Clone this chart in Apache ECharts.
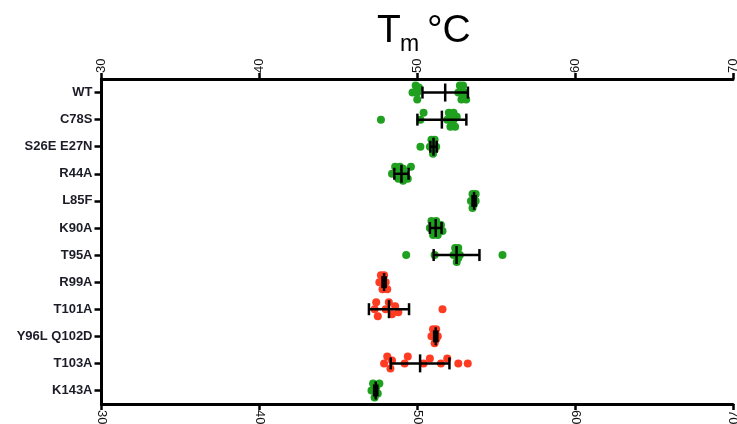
<!DOCTYPE html>
<html><head><meta charset="utf-8">
<script src="https://cdn.jsdelivr.net/npm/echarts@6/dist/echarts.min.js"></script>
<style>html,body{margin:0;padding:0;background:#fff}#c{width:737px;height:424px}</style>
</head><body><div id="c"></div>
<script>
// ---------- data ----------
const categories = ['WT','C78S','S26E E27N','R44A','L85F','K90A','T95A','R99A','T101A','Y96L Q102D','T103A','K143A'];
const groups = ['green','green','green','green','green','green','green','red','red','red','red','green'];
const ptsWT    = [49.7, 49.9, 50.0, 50.1, 50.0, 52.6, 52.7, 52.8, 52.9, 53.0, 53.1, 52.8, 52.9];
const ptsC78S  = [47.7, 50.2, 50.4, 51.9, 52.0, 52.1, 52.2, 52.3, 52.4, 52.5, 52.2, 52.3];
const ptsS26E  = [50.2, 50.8, 50.9, 51.0, 51.1, 51.2, 51.0, 51.1];
const ptsR44A  = [48.4, 48.6, 48.8, 48.9, 49.0, 49.1, 49.2, 49.4, 49.6, 48.9, 49.1];
const ptsL85F  = [53.4, 53.5, 53.6, 53.7, 53.6, 53.5, 53.7];
const ptsK90A  = [50.8, 50.9, 51.0, 51.1, 51.2, 51.3, 51.5, 51.6, 51.1, 51.2];
const ptsT95A  = [49.3, 51.1, 52.3, 52.5, 52.6, 52.7, 52.5, 52.6, 52.4, 55.4];
const ptsR99A  = [47.6, 47.7, 47.8, 47.9, 48.0, 48.1, 47.9, 47.8];
const ptsT101A = [47.3, 47.4, 47.5, 48.0, 48.2, 48.4, 48.6, 48.8, 51.6];
const ptsY96L  = [50.9, 51.0, 51.1, 51.2, 51.3, 51.1, 51.2];
const ptsT103A = [47.9, 48.1, 48.3, 48.4, 49.2, 49.4, 50.4, 50.8, 51.5, 51.9, 52.6, 53.2];
const ptsK143A = [47.1, 47.2, 47.3, 47.4, 47.5, 47.6];
const means = [51.77, 51.56, 51.03, 49.0, 53.6, 51.17, 52.49, 47.9, 48.21, 51.17, 50.18, 47.37];
const errs  = [1.44, 1.55, 0.2, 0.45, 0.1, 0.37, 1.45, 0.1, 1.27, 0.1, 1.86, 0.1];
const xTicks = [30, 40, 50, 60, 70];

// ---------- layout ----------
const allPts = [ptsWT, ptsC78S, ptsS26E, ptsR44A, ptsL85F, ptsK90A, ptsT95A, ptsR99A, ptsT101A, ptsY96L, ptsT103A, ptsK143A];
const colors = {green: '#1fa01f', red: '#ff3b22'};
const W = 737, H = 424;
const grid = {left: 101.5, right: 4, top: 79, bottom: 20, outerBoundsMode: 'none', containLabel: false};
const xMin = xTicks[0], xMax = xTicks[xTicks.length - 1];
const ppu = (W - grid.left - grid.right) / (xMax - xMin);
const SYM = 8;

// deterministic beeswarm offsets (points may overlap, like the reference)
function swarm(vals) {
  const order = vals.map((v, i) => i).sort((a, b) => vals[a] - vals[b]);
  const placed = [];
  const offs = new Array(vals.length).fill(0);
  const cands = [0, -5, 5, -3, 3, -7, 7];
  const minD = 8;
  order.forEach(i => {
    const x = vals[i] * ppu;
    let best = 0, bestD = -1;
    for (const c of cands) {
      let d = 1e9;
      for (const p of placed) {
        const dx = x - p[0], dy = c - p[1];
        d = Math.min(d, Math.sqrt(dx * dx + dy * dy));
      }
      if (d >= minD) { best = c; bestD = d; break; }
      if (d > bestD) { bestD = d; best = c; }
    }
    offs[i] = best; placed.push([x, best]);
  });
  return offs;
}

const seriesData = {green: [], red: []};
allPts.forEach((arr, ci) => {
  const offs = swarm(arr);
  arr.forEach((v, k) => {
    seriesData[groups[ci]].push({value: [v, ci], symbolOffset: [0, offs[k]]});
  });
});
const errData = means.map((m, i) => [m, i, errs[i]]);

const chart = echarts.init(document.getElementById('c'), null, {renderer: 'canvas'});
const axisLine = {show: true, lineStyle: {color: '#000', width: 3}};
const xAxisBase = {
  type: 'value', min: xMin, max: xMax, interval: 10,
  axisLine: axisLine, splitLine: {show: false},
  axisTick: {show: true, length: 6, lineStyle: {color: '#000', width: 2.5}},
  axisLabel: {rotate: -90, fontSize: 13, color: '#111', fontFamily: 'Liberation Sans, Arial', margin: 6, hideOverlap: false}
};
chart.setOption({
  animation: false,
  backgroundColor: '#fff',
  grid: grid,
  xAxis: [
    Object.assign({}, xAxisBase, {position: 'top'}),
    Object.assign({}, xAxisBase, {position: 'bottom'})
  ],
  yAxis: {
    type: 'category', data: categories, inverse: true, boundaryGap: true,
    axisLine: axisLine,
    axisTick: {show: true, alignWithLabel: true, length: 7, lineStyle: {color: '#000', width: 2.5}},
    axisLabel: {fontSize: 13, fontWeight: 'bold', color: '#1c1c28', fontFamily: 'Liberation Sans, Arial', margin: 9},
    splitLine: {show: false}
  },
  graphic: [
    {type: 'text', left: 377, top: 12, style: {text: 'T', font: '39px "Liberation Sans", Arial', fill: '#000'}},
    {type: 'text', left: 400, top: 33, style: {text: 'm', font: '23px "Liberation Sans", Arial', fill: '#000'}},
    {type: 'text', left: 427, top: 12, style: {text: '°C', font: '39px "Liberation Sans", Arial', fill: '#000'}}
  ],
  series: [
    {type: 'scatter', xAxisIndex: 0, symbolSize: SYM, itemStyle: {color: colors.green, opacity: 1}, data: seriesData.green, z: 2},
    {type: 'scatter', xAxisIndex: 0, symbolSize: SYM, itemStyle: {color: colors.red, opacity: 1}, data: seriesData.red, z: 2},
    {
      type: 'custom', xAxisIndex: 0, z: 5, data: errData, encode: {x: 0, y: 1},
      renderItem: function (params, api) {
        const m = api.value(0), ci = api.value(1), e = api.value(2);
        const c = api.coord([m, ci]);
        const l = api.coord([m - e, ci]);
        const r = api.coord([m + e, ci]);
        const st = {stroke: '#000', lineWidth: 2.5};
        return {type: 'group', children: [
          {type: 'line', shape: {x1: l[0], y1: c[1], x2: r[0], y2: c[1]}, style: st},
          {type: 'line', shape: {x1: l[0], y1: c[1] - 6, x2: l[0], y2: c[1] + 6}, style: st},
          {type: 'line', shape: {x1: r[0], y1: c[1] - 6, x2: r[0], y2: c[1] + 6}, style: st},
          {type: 'line', shape: {x1: c[0], y1: c[1] - 9, x2: c[0], y2: c[1] + 9}, style: st}
        ]};
      }
    }
  ]
});
</script></body></html>
